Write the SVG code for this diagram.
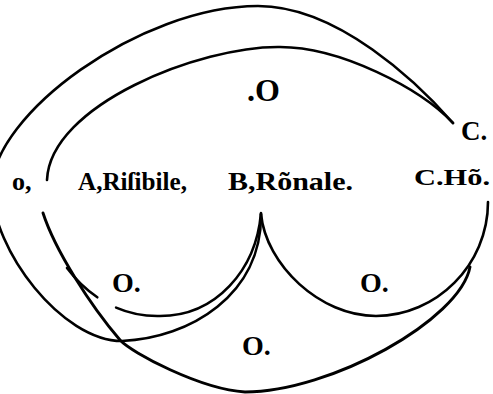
<svg xmlns="http://www.w3.org/2000/svg" width="493" height="394" viewBox="0 0 493 394">
<style>
.c{fill:none;stroke:#000;stroke-width:2.6;stroke-linecap:round;stroke-linejoin:round}
.t{font-family:"Liberation Serif","Times New Roman",serif;font-weight:bold;fill:#000}
</style>
<rect width="493" height="394" fill="#fff"/>
<g id="curves">
<path id="outer" class="c" d="M453,123 C418,83 338,6 258,6 C140,6 -8,115 -8,188 C-8,250 62,341 122,341 C190,338 262,295 261,214"/>
<path id="inner-top" class="c" d="M453,123 C420,88 340,47 280,47 C200,46 50,105 47,180"/>
<path id="inner-bottom" class="c" style="stroke-width:2.9" d="M43,213 C55,250 90,305 120,340 C132,353 200,389 245,392 C330,392 460,320 470,267"/>
<path id="left-cusp" class="c" d="M261,213 C256,270 216,316 160,316 C144,316.4 129.3,313.3 116.1,307.6"/>
<path id="left-cusp-end" class="c" d="M97.3,297.3 C85.6,289.3 75.4,279.2 67,268"/>
<path id="right-cusp" class="c" d="M261,214 C266,265 320,316 376,316 C436,316 488,265 488,202"/>
</g>
<g id="label-o-left"><text class="t" x="12" y="190" font-size="26">o,</text></g>
<g id="label-A"><text class="t" x="78" y="190" font-size="25" textLength="109" lengthAdjust="spacingAndGlyphs">A,Riſibile,</text></g>
<g id="label-B"><text class="t" x="228" y="190" font-size="25" textLength="125" lengthAdjust="spacingAndGlyphs">B,Rõnale.</text></g>
<g id="label-CH"><text class="t" x="414" y="185" font-size="24" textLength="76" lengthAdjust="spacingAndGlyphs">C.Hõ.</text></g>
<g id="label-C"><text class="t" x="461" y="140" font-size="27">C.</text></g>
<g id="label-O-top"><text class="t" x="247" y="101" font-size="32">.O</text></g>
<g id="label-O-left"><text class="t" x="112" y="292" font-size="28">O.</text></g>
<g id="label-O-right"><text class="t" x="360" y="292" font-size="28">O.</text></g>
<g id="label-O-bottom"><text class="t" x="242" y="355" font-size="28">O.</text></g>
</svg>
